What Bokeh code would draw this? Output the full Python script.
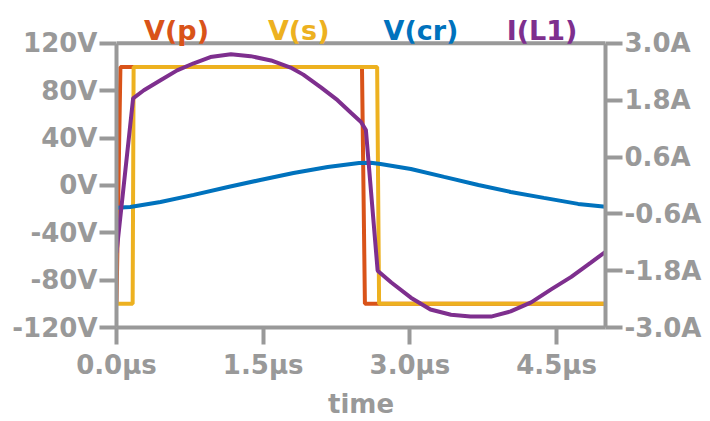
from bokeh.plotting import figure
from bokeh.models import Range1d, LinearAxis, FixedTicker, PrintfTickFormatter, Label, Span
from bokeh.embed import file_html
from bokeh.resources import INLINE

# --- waveform data (time in microseconds) ---
t_vp = [0.0, 0.04, 2.51, 2.54, 5.0]
v_p = [-100, 100, 100, -100, -100]

t_vs = [0.0, 0.165, 0.175, 2.665, 2.685, 5.0]
v_s = [-100, -100, 100, 100, -100, -100]

t_vcr = [0.0, 0.14, 0.45, 0.79, 1.14, 1.47, 1.81, 2.16, 2.48, 2.60, 2.70,
         3.01, 3.35, 3.70, 4.03, 4.37, 4.72, 5.0]
v_cr = [-18.8, -18.2, -14.0, -8.0, -1.3, 4.6, 10.5, 15.6, 18.9, 19.2, 18.1,
        13.9, 7.2, 0.4, -5.5, -10.5, -15.6, -18.1]

t_il1 = [0.0, 0.17, 0.28, 0.45, 0.62, 0.79, 0.96, 1.17, 1.37, 1.58, 1.78,
         1.91, 2.09, 2.26, 2.40, 2.50, 2.55, 2.67, 2.81, 3.01, 3.21, 3.42,
         3.62, 3.83, 4.03, 4.24, 4.44, 4.65, 4.85, 5.0]
i_l1 = [-1.42, 1.84, 2.01, 2.22, 2.43, 2.58, 2.71, 2.77, 2.73, 2.64, 2.49,
        2.34, 2.07, 1.80, 1.53, 1.34, 1.17, -1.80, -2.05, -2.37, -2.62, -2.73,
        -2.77, -2.77, -2.66, -2.47, -2.20, -1.93, -1.63, -1.40]

# --- axis ticks ---
time_ticks = [0.0, 1.5, 3.0, 4.5]
volt_ticks = [-120, -80, -40, 0, 40, 80, 120]
amp_ticks = [-3.0, -1.8, -0.6, 0.6, 1.8, 3.0]

trace_names = ["V(p)", "V(s)", "V(cr)", "I(L1)"]
trace_colors = ["#D95319", "#EDB120", "#0072BD", "#7E2F8E"]

GRAY = "#999999"
FONT = "DejaVu Sans"
FSIZE = "26px"

T_MIN, T_MAX = 0.0, 5.0
V_MIN, V_MAX = -120, 120
A_MIN, A_MAX = -3.0, 3.0

# the plot frame reaches the top of the canvas so the trace names can sit
# above the boxed area; the box spans PLOT_H pixels below HEADER pixels
HEADER, PLOT_H = 43, 285
head = HEADER / PLOT_H

p = figure(width=710, height=421,
           x_range=Range1d(T_MIN, T_MAX),
           y_range=Range1d(V_MIN, V_MAX + (V_MAX - V_MIN) * head),
           output_backend="svg", toolbar_location=None,
           min_border_left=116, min_border_right=105,
           min_border_top=0, min_border_bottom=93)
p.extra_y_ranges = {"amps": Range1d(A_MIN, A_MAX + (A_MAX - A_MIN) * head)}
p.add_layout(LinearAxis(y_range_name="amps"), "right")

p.xgrid.grid_line_color = None
p.ygrid.grid_line_color = None
p.outline_line_color = None
p.background_fill_color = "white"
p.border_fill_color = "white"


def style_axis(ax):
    ax.axis_line_color = GRAY
    ax.axis_line_width = 4
    ax.major_tick_line_color = GRAY
    ax.major_tick_line_width = 4
    ax.major_tick_out = 17
    ax.major_tick_in = 0
    ax.minor_tick_line_color = None
    ax.major_label_text_font = FONT
    ax.major_label_text_font_size = FSIZE
    ax.major_label_text_font_style = "bold"
    ax.major_label_text_color = GRAY
    ax.major_label_standoff = 2


xax = p.below[0]
style_axis(xax)
xax.ticker = FixedTicker(ticks=time_ticks)
xax.formatter = PrintfTickFormatter(format="%.1fµs")
xax.major_label_standoff = 5
xax.axis_label = "time"
xax.axis_label_text_font = FONT
xax.axis_label_text_font_size = FSIZE
xax.axis_label_text_font_style = "bold"
xax.axis_label_text_color = GRAY
xax.axis_label_standoff = 6

yax = p.left[0]
style_axis(yax)
yax.ticker = FixedTicker(ticks=volt_ticks)
yax.formatter = PrintfTickFormatter(format="%dV")
yax.bounds = (V_MIN, V_MAX)

rax = p.right[0]
style_axis(rax)
rax.ticker = FixedTicker(ticks=amp_ticks)
rax.formatter = PrintfTickFormatter(format="%.1fA")
rax.bounds = (A_MIN, A_MAX)

# top edge of the plot box
p.add_layout(Span(location=V_MAX, dimension="width", line_color=GRAY, line_width=4))

# --- traces ---
p.line(t_vp, v_p, line_color=trace_colors[0], line_width=4)
p.line(t_vs, v_s, line_color=trace_colors[1], line_width=4)
p.line(t_vcr, v_cr, line_color=trace_colors[2], line_width=4)
p.line(t_il1, i_l1, line_color=trace_colors[3], line_width=4,
       y_range_name="amps")

# --- trace names above the plot box ---
name_x = [0.614, 1.863, 3.113, 4.351]
for name, color, x in zip(trace_names, trace_colors, name_x):
    p.add_layout(Label(x=x, y=130.9, text=name, text_color=color,
                       text_font=FONT, text_font_size="27px",
                       text_font_style="bold", text_align="center",
                       text_baseline="alphabetic"))

open("out.html", "w").write(file_html(p, INLINE))
